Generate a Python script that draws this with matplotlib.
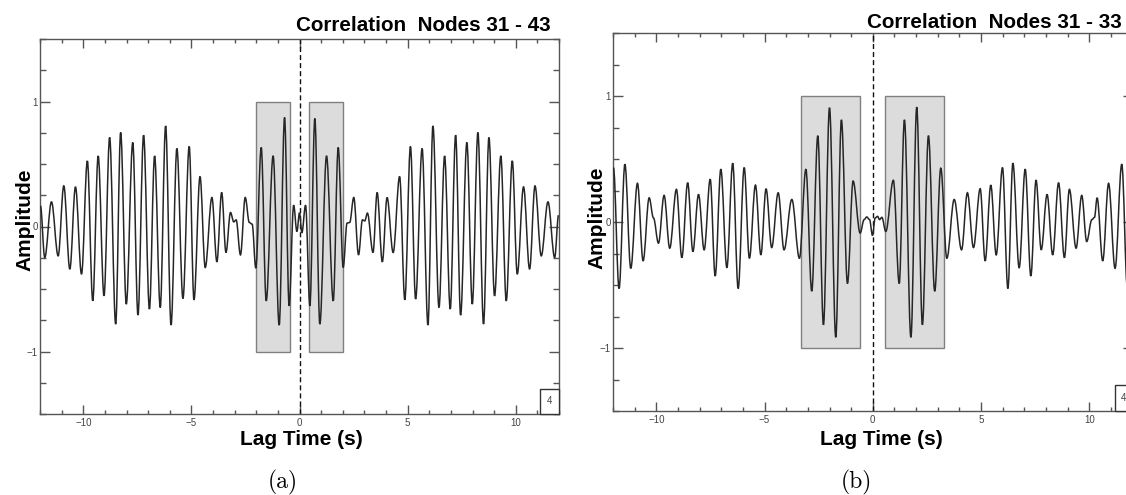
import matplotlib
matplotlib.use("Agg")
import matplotlib.pyplot as plt
from matplotlib.patches import Rectangle, PathPatch
from matplotlib.path import Path
from matplotlib.ticker import MultipleLocator, FixedLocator

# ---------------- data (extrema of each trace) ----------------
a_time = [-11.98, -11.78, -11.47, -11.16, -10.90, -10.62, -10.36, -10.08, -9.81, -9.56,
          -9.31, -9.04, -8.78, -8.50, -8.27, -8.01, -7.71, -7.47, -7.21, -6.94,
          -6.70, -6.44, -6.19, -5.94, -5.67, -5.39, -5.10, -4.88, -4.60, -4.36,
          -4.05, -3.82, -3.60, -3.40, -3.19, -3.04, -2.93, -2.73, -2.51, -2.32,
          -2.19, -2.02, -1.77, -1.54, -1.22, -0.94, -0.69, -0.48, -0.27, -0.12,
          0.00, 0.11, 0.28, 0.48, 0.71, 0.94, 1.25, 1.56, 1.79, 2.02,
          2.20, 2.32, 2.51, 2.73, 2.91, 3.02, 3.14, 3.40, 3.59, 3.83,
          4.05, 4.33, 4.63, 4.87, 5.13, 5.37, 5.67, 5.94, 6.17, 6.45,
          6.71, 6.97, 7.22, 7.45, 7.74, 7.99, 8.25, 8.51, 8.76, 9.02,
          9.31, 9.56, 9.84, 10.07, 10.36, 10.64, 10.89, 11.18, 11.49, 11.80,
          11.98]
a_amp = [0.165, -0.248, 0.197, -0.235, 0.325, -0.341, 0.317, -0.381, 0.525, -0.595,
         0.565, -0.555, 0.712, -0.781, 0.752, -0.621, 0.672, -0.709, 0.731, -0.661,
         0.565, -0.648, 0.805, -0.789, 0.624, -0.576, 0.640, -0.587, 0.400, -0.328,
         0.232, -0.283, 0.272, -0.208, 0.112, 0.037, 0.053, -0.227, 0.232, 0.032,
         0.019, -0.333, 0.632, -0.595, 0.565, -0.789, 0.872, -0.635, 0.170, -0.040,
         0.110, -0.050, 0.170, -0.635, 0.864, -0.781, 0.565, -0.595, 0.632, -0.328,
         0.027, 0.032, 0.232, -0.227, 0.053, 0.045, 0.107, -0.208, 0.272, -0.283,
         0.232, -0.208, 0.400, -0.587, 0.640, -0.580, 0.624, -0.789, 0.805, -0.648,
         0.565, -0.661, 0.731, -0.709, 0.672, -0.621, 0.752, -0.781, 0.712, -0.555,
         0.565, -0.595, 0.525, -0.381, 0.317, -0.341, 0.325, -0.235, 0.197, -0.248,
         0.090]

b_time = [-11.98, -11.72, -11.45, -11.18, -10.87, -10.61, -10.33, -10.13, -9.90, -9.64,
          -9.38, -9.07, -8.82, -8.55, -8.31, -8.05, -7.79, -7.51, -7.28, -7.02,
          -6.74, -6.47, -6.22, -5.94, -5.70, -5.42, -5.17, -4.93, -4.67, -4.37,
          -4.10, -3.74, -3.39, -3.09, -2.82, -2.54, -2.28, -2.00, -1.71, -1.45,
          -1.17, -0.91, -0.585, -0.40, -0.28, -0.15, -0.015, 0.11, 0.22, 0.31,
          0.42, 0.60, 0.95, 1.22, 1.46, 1.76, 2.03, 2.29, 2.57, 2.86,
          3.14, 3.42, 3.76, 4.10, 4.37, 4.65, 4.96, 5.19, 5.45, 5.70,
          5.99, 6.24, 6.47, 6.76, 7.04, 7.30, 7.54, 7.78, 8.05, 8.31,
          8.58, 8.85, 9.08, 9.39, 9.65, 9.88, 10.12, 10.24, 10.36, 10.62,
          10.89, 11.19, 11.50, 11.76]
b_amp = [0.432, -0.528, 0.459, -0.368, 0.307, -0.309, 0.192, 0.032, -0.168, 0.211,
         -0.208, 0.259, -0.283, 0.312, -0.235, 0.219, -0.221, 0.339, -0.429, 0.419,
         -0.363, 0.467, -0.528, 0.432, -0.288, 0.293, -0.261, 0.264, -0.203, 0.232,
         -0.221, 0.179, -0.288, 0.419, -0.549, 0.685, -0.816, 0.907, -0.915, 0.811,
         -0.488, 0.325, -0.088, 0.019, 0.040, 0.019, -0.107, 0.032, 0.045, 0.019,
         0.037, -0.075, 0.331, -0.488, 0.811, -0.915, 0.912, -0.816, 0.685, -0.549,
         0.427, -0.288, 0.179, -0.221, 0.232, -0.203, 0.264, -0.309, 0.293, -0.261,
         0.432, -0.528, 0.467, -0.363, 0.419, -0.429, 0.333, -0.221, 0.219, -0.261,
         0.312, -0.283, 0.259, -0.208, 0.211, -0.155, 0.019, 0.037, 0.192, -0.309,
         0.307, -0.368, 0.459, -0.528]

a_boxes = [(-2.03, -0.46), (0.42, 1.99)]
b_boxes = [(-3.31, -0.585), (0.57, 3.31)]
box_ylo, box_yhi = -1.0, 1.0

titles = ["Correlation  Nodes 31 - 43", "Correlation  Nodes 31 - 33"]
panel_labels = ["(a)", "(b)"]
x_label = "Lag Time (s)"
y_label = "Amplitude"
corner_label = "4"
x_major = [-10, -5, 0, 5, 10]
y_major = [-1, 0, 1]

# ---------------- figure ----------------
W, H = 1126, 495
fig = plt.figure(figsize=(W / 100, H / 100), dpi=100)

SANS = ["Liberation Sans", "DejaVu Sans"]


def px_axes(left, top, right, bottom):
    return [left / W, 1 - bottom / H, (right - left) / W, (bottom - top) / H]


def smooth_path(ts, amps, k=0.36):
    """Smooth curve through the read extrema: cubic Bezier segments with
    flat tangents at every extremum (drawn by matplotlib in data space)."""
    verts = [(ts[0], amps[0])]
    codes = [Path.MOVETO]
    for j in range(1, len(ts)):
        t0, a0 = ts[j - 1], amps[j - 1]
        t1, a1 = ts[j], amps[j]
        dt = t1 - t0
        verts += [(t0 + k * dt, a0), (t1 - k * dt, a1), (t1, a1)]
        codes += [Path.CURVE4, Path.CURVE4, Path.CURVE4]
    return Path(verts, codes)


panels = [
    dict(rect=px_axes(40, 39, 559, 414), t=a_time, a=a_amp, boxes=a_boxes,
         title=titles[0], title_pos=(0.9846, 1.021), corner=(0.963, 0.067),
         ylab_x=25, ylab_y=220, xlab_x=301, plab_x=283),
    dict(rect=px_axes(613, 33, 1132.6, 411), t=b_time, a=b_amp, boxes=b_boxes,
         title=titles[1], title_pos=(0.979, 1.013), corner=(0.966, 0.069),
         ylab_x=597, ylab_y=218, xlab_x=881, plab_x=856),
]

for i, p in enumerate(panels):
    ax = fig.add_axes(p["rect"])
    ax.set_xlim(-12, 12)
    ax.set_ylim(-1.5, 1.5)

    for (x0, x1) in p["boxes"]:
        ax.add_patch(Rectangle((x0, box_ylo), x1 - x0, box_yhi - box_ylo,
                               facecolor="#dcdcdc", edgecolor="#808080",
                               linewidth=1.0, zorder=1))

    ax.axvline(0, color="#111111", linewidth=1.0, linestyle=(0, (3.6, 2.2)), zorder=2)
    ax.add_patch(PathPatch(smooth_path(p["t"], p["a"]), facecolor="none",
                           edgecolor="#262626", linewidth=1.1, zorder=3))

    # ticks
    ax.xaxis.set_major_locator(FixedLocator(x_major))
    ax.xaxis.set_minor_locator(MultipleLocator(1))
    ax.yaxis.set_major_locator(FixedLocator(y_major))
    ax.yaxis.set_minor_locator(MultipleLocator(0.25))
    ax.tick_params(which="both", direction="in", top=True, right=True,
                   color="#555555", width=1.0, labelcolor="#444444",
                   labelsize=7)
    ax.tick_params(axis="x", which="major", length=6.5, pad=3)
    ax.tick_params(axis="x", which="minor", length=3)
    ax.tick_params(axis="y", which="major", length=7, pad=1.5)
    ax.tick_params(axis="y", which="minor", length=4.5)
    for lab in ax.get_xticklabels() + ax.get_yticklabels():
        lab.set_family(SANS)
    for s in ax.spines.values():
        s.set_color("#555555")
        s.set_linewidth(1.0)

    # little corner box with "4"
    cx, cy = p["corner"]
    ax.add_patch(Rectangle((cx, 0), 1 - cx, cy, transform=ax.transAxes,
                           facecolor="white", edgecolor="#333333",
                           linewidth=1.0, zorder=4, clip_on=False))
    ax.text((cx + 1) / 2, cy / 2, corner_label, transform=ax.transAxes,
            ha="center", va="center", fontsize=7, color="#444444",
            family=SANS, zorder=5)

    # title
    ax.text(p["title_pos"][0], p["title_pos"][1], p["title"], transform=ax.transAxes,
            ha="right", va="baseline", fontsize=14.9, fontweight="bold",
            family=SANS, color="black")

    # axis labels
    fig.text(p["ylab_x"] / W, 1 - p["ylab_y"] / H, y_label, rotation=90,
             ha="center", va="center", fontsize=15, fontweight="bold", family=SANS)
    fig.text(p["xlab_x"] / W, 1 - 445 / H, x_label, ha="center", va="baseline",
             fontsize=15, fontweight="bold", family=SANS)
    # panel label
    fig.text(p["plab_x"] / W, 1 - 482 / H, panel_labels[i], ha="center",
             va="center", fontsize=17, family=["cmr10", "DejaVu Serif"])

fig.savefig("out.png", dpi=100)
